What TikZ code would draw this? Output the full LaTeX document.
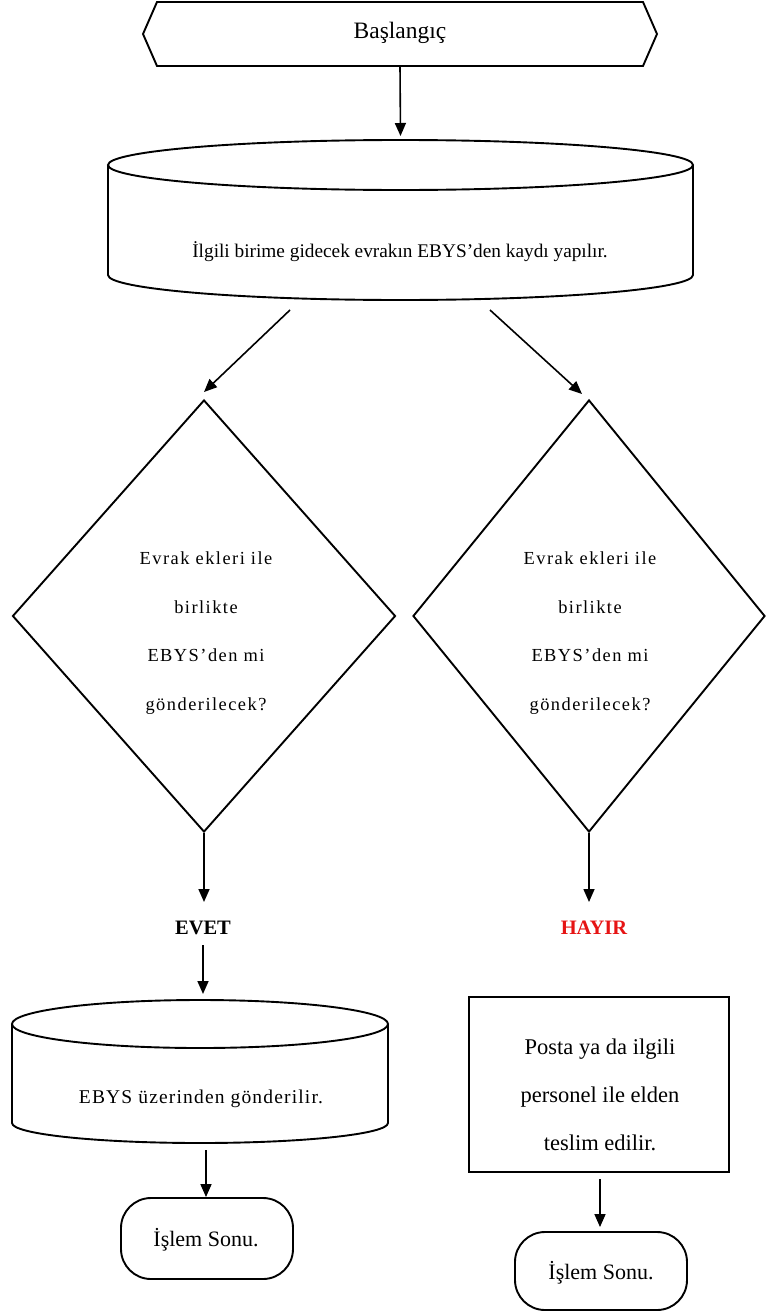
\documentclass[tikz,border=0pt]{standalone}
\usepackage{fontspec}
\setmainfont{Liberation Serif}
\usetikzlibrary{arrows.meta,shapes.geometric}
\begin{document}
\begin{tikzpicture}[x=1pt,y=-1pt,
  shp/.style={draw=black,line width=1.9pt},
  ghost/.style={draw=none,inner sep=0pt,outer sep=0pt},
  txt/.style={font=\fontsize{19.3}{22}\selectfont,align=center,inner sep=0pt},
  dtxt/.style={font=\fontsize{18.4}{48.5}\selectfont\addfontfeature{LetterSpace=8},align=center,inner sep=0pt},
  lbl/.style={font=\fontsize{20.5}{24}\selectfont\bfseries,inner sep=0pt},
  arr/.style={line width=1.6pt,-{Triangle[length=13pt,width=11pt]}},
  term/.style={shp,rounded corners=30pt,minimum width=172pt,minimum height=81pt,inner sep=0pt},
  dia/.style={shp,diamond,inner sep=0pt,minimum width=383pt,minimum height=432pt}
]
\useasboundingbox (0,0) rectangle (766,1314);
% start hexagon
\node[ghost,minimum width=514pt,minimum height=64pt] (start) at (400,34) {};
\draw[shp] (start.west) -- ([xshift=14pt]start.north west) -- ([xshift=-14pt]start.north east)
  -- (start.east) -- ([xshift=-14pt]start.south east) -- ([xshift=14pt]start.south west) -- cycle;
\node[txt,font=\fontsize{23.5}{26}\selectfont] (startt) at (400,33) {Başlangıç};
% cylinder 1
\node[ghost,minimum width=585pt,minimum height=160pt] (db1) at (400.5,220) {};
\draw[shp] ([yshift=-25pt]db1.north) ellipse (292.5pt and 25pt);
\draw[shp] ([yshift=-25pt]db1.north west) -- ([yshift=25pt]db1.south west)
  arc (180:360:292.5pt and 25pt) -- ([yshift=-25pt]db1.north east);
\node[txt] (db1t) at (400,252) {İlgili birime gidecek evrakın EBYS’den kaydı yapılır.};
% diamonds
\node[dia] (d1) at (204,616) {};
\node[dtxt] (d1t) at (206,633) {Evrak ekleri ile\\birlikte\\EBYS’den mi\\gönderilecek?};
\node[dia,minimum width=352pt] (d2) at (589,616) {};
\node[dtxt] (d2t) at (590,633) {Evrak ekleri ile\\birlikte\\EBYS’den mi\\gönderilecek?};
% labels
\node[lbl] (evet) at (203,928) {EVET};
\node[lbl,text={rgb,255:red,230;green,20;blue,20}] (hayir) at (594,928) {HAYIR};
% cylinder 2
\node[ghost,minimum width=376pt,minimum height=143pt] (db2) at (200,1071.5) {};
\draw[shp] ([yshift=-24pt]db2.north) ellipse (188pt and 24pt);
\draw[shp] ([yshift=-24pt]db2.north west) -- ([yshift=20pt]db2.south west)
  arc (180:360:188pt and 20pt) -- ([yshift=-24pt]db2.north east);
\node[txt,font=\fontsize{19.5}{22}\selectfont\addfontfeature{LetterSpace=6}] (db2t) at (201,1099) {EBYS üzerinden gönderilir.};
% rectangle right
\node[draw=black,line width=1.6pt,minimum width=260pt,minimum height=175pt,inner sep=0pt] (box) at (599,1084.5) {};
\node[txt,font=\fontsize{22.5}{48}\selectfont] (boxt) at (600,1095) {Posta ya da ilgili\\personel ile elden\\teslim edilir.};
% terminals
\node[term] (end1) at (207,1238.5) {};
\node[txt,font=\fontsize{22}{24}\selectfont] (end1t) at (206,1240) {İşlem Sonu.};
\node[term,minimum width=172pt,minimum height=78pt] (end2) at (601,1271) {};
\node[txt,font=\fontsize{22}{24}\selectfont] (end2t) at (601,1273) {İşlem Sonu.};
% connectors
\draw[arr] (start.south) -- ([yshift=4pt]db1.north);
\coordinate (a1s) at (290,310);
\coordinate (a1e) at (204,392);
\coordinate (a2s) at (490,310);
\coordinate (a2e) at (582,394);
\draw[arr] (a1s) -- (a1e);
\draw[arr] (a2s) -- (a2e);
\coordinate (e1s) at (203,945);
\coordinate (e1e) at (203,994);
\coordinate (h1e) at (589,902);
\coordinate (v1e) at (204,902);
\draw[arr] (d1.south) -- (d1.south |- v1e);
\draw[arr] (e1s) -- (e1e);
\draw[arr] (d2.south) -- (h1e);
\coordinate (t1s) at (206,1150);
\draw[arr] (t1s) -- (end1.north -| t1s);
\coordinate (t2s) at (600,1179);
\draw[arr] (t2s) -- ([yshift=4pt]end2.north -| t2s);
\end{tikzpicture}
\end{document}
